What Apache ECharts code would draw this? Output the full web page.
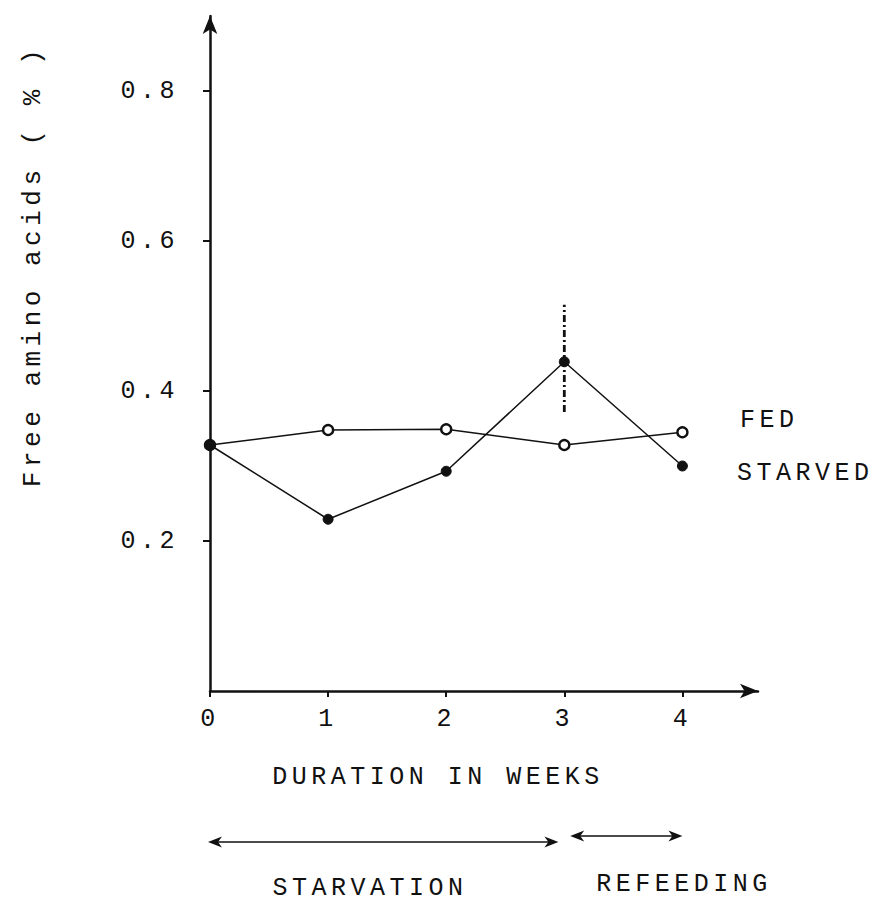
<!DOCTYPE html>
<html>
<head>
<meta charset="utf-8">
<script src="https://cdn.jsdelivr.net/npm/echarts@6/dist/echarts.min.js"></script>
<style>
  html, body { margin: 0; padding: 0; background: #fff; }
  #chart { width: 879px; height: 910px; }
  #chart text { letter-spacing: 4.5px; }
</style>
</head>
<body>
<div id="chart"></div>
<script>
// ---- data ----
const weeks = [0, 1, 2, 3, 4];
const fedValues = [0.328, 0.348, 0.349, 0.328, 0.345];
const starvedValues = [0.328, 0.229, 0.293, 0.439, 0.300];
const errorWeek = 3;
const errorLow = 0.372;
const errorHigh = 0.515;
const yTickValues = [0.2, 0.4, 0.6, 0.8];
const xTickValues = [0, 1, 2, 3, 4];
const yAxisTitle = 'Free amino acids ( % )';
const xAxisTitle = 'DURATION IN WEEKS';
const seriesNames = ['FED', 'STARVED'];
const phaseNames = ['STARVATION', 'REFEEDING'];
const phaseRanges = [[0, 2.95], [3.05, 4]];

const FONT = '"Liberation Mono", "DejaVu Sans Mono", monospace';
const INK = '#111';
const FS = 25;

const chart = echarts.init(document.getElementById('chart'), null, { renderer: 'svg' });

const fedData = weeks.map((w, i) => [w, fedValues[i]]);
const starvedData = weeks.map((w, i) => [w, starvedValues[i]]);

chart.setOption({
  backgroundColor: '#fff',
  animation: false,
  grid: { left: 210, top: 16, right: 121, bottom: 219, containLabel: false },
  xAxis: {
    type: 'value', min: 0, max: 4.64,
    axisLine: { show: true, lineStyle: { color: INK, width: 2.5 }, symbol: ['none', 'arrow'], symbolSize: [11, 18] },
    axisTick: { show: true, customValues: xTickValues, length: 6, inside: false, lineStyle: { color: INK, width: 2 } },
    axisLabel: { customValues: xTickValues, formatter: v => String(v), fontFamily: FONT, fontSize: FS, color: INK, margin: 16 },
    splitLine: { show: false }
  },
  yAxis: {
    type: 'value', min: 0, max: 0.9,
    axisLine: { show: true, lineStyle: { color: INK, width: 2.5 }, symbol: ['none', 'arrow'], symbolSize: [11, 18] },
    axisTick: { show: true, customValues: yTickValues, length: 7, lineStyle: { color: INK, width: 2 } },
    axisLabel: { customValues: yTickValues, formatter: v => v.toFixed(1), fontFamily: FONT, fontSize: FS, color: INK, margin: 31 },
    splitLine: { show: false }
  },
  series: [
    {
      name: seriesNames[0], type: 'line', data: fedData,
      symbol: 'circle', symbolSize: 10,
      lineStyle: { color: INK, width: 1.5 },
      itemStyle: { color: '#fff', borderColor: INK, borderWidth: 2.4 },
      z: 3
    },
    {
      name: seriesNames[1], type: 'line', data: starvedData,
      symbol: 'circle', symbolSize: 10,
      lineStyle: { color: INK, width: 1.5 },
      itemStyle: { color: INK, borderColor: INK, borderWidth: 1 },
      z: 4
    },
    {
      name: 'error', type: 'line',
      data: [[errorWeek, errorLow], [errorWeek, errorHigh]],
      symbol: 'none',
      lineStyle: { color: INK, width: 2.8, type: [7, 3, 2, 3] },
      z: 2
    }
  ]
});

function arrowHead(x, y, dir) {
  const L = 14, W = 5.5;
  return {
    type: 'polygon',
    shape: { points: [[x, y], [x - dir * L, y - W], [x - dir * (L - 4), y], [x - dir * L, y + W]] },
    style: { fill: INK }
  };
}
function doubleArrow(x1, x2, y) {
  return [
    { type: 'line', shape: { x1: x1 + 4, y1: y, x2: x2 - 4, y2: y }, style: { stroke: INK, lineWidth: 1.7 } },
    arrowHead(x1, y, -1),
    arrowHead(x2, y, 1)
  ];
}

const textStyle = (t, x, y, align) => ({
  type: 'text', x: x, y: y,
  style: { text: t, font: FS + 'px ' + FONT, fill: INK, align: align || 'center', verticalAlign: 'middle' }
});

const p0 = chart.convertToPixel({ xAxisIndex: 0 }, phaseRanges[0][0]);
const p1 = chart.convertToPixel({ xAxisIndex: 0 }, phaseRanges[0][1]);
const p2 = chart.convertToPixel({ xAxisIndex: 0 }, phaseRanges[1][0]);
const p3 = chart.convertToPixel({ xAxisIndex: 0 }, phaseRanges[1][1]);

const graphics = [
  {
    type: 'text', x: 33, y: 266, rotation: Math.PI / 2,
    style: { text: yAxisTitle, font: '26px ' + FONT, fill: INK, align: 'center', verticalAlign: 'middle' }
  },
  textStyle(seriesNames[0], 740, 420, 'left'),
  textStyle(seriesNames[1], 737, 473, 'left'),
  textStyle(xAxisTitle, 438, 777),
  textStyle(phaseNames[0], 370, 888),
  textStyle(phaseNames[1], 684, 884)
].concat(doubleArrow(p0 - 2, p1, 842)).concat(doubleArrow(p2, p3, 836));

chart.setOption({ graphic: graphics });
</script>
</body>
</html>
